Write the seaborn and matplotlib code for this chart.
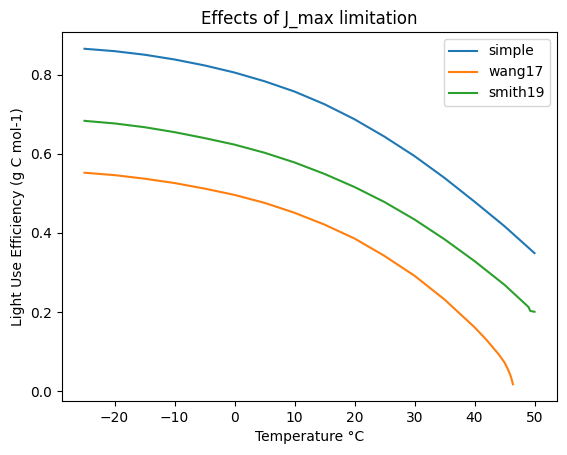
import pandas as pd
import numpy as np
import matplotlib
matplotlib.use('Agg')
import matplotlib.pyplot as plt
import seaborn as sns

# values
temp_simple = [-25, -20, -15, -10, -5, 0, 5, 10, 15, 20, 25, 30, 35, 40, 45, 50]
lue_simple = [0.865, 0.859, 0.850, 0.838, 0.823, 0.805, 0.783, 0.757, 0.725,
              0.687, 0.643, 0.594, 0.539, 0.479, 0.417, 0.349]

temp_wang = [-25, -20, -15, -10, -5, 0, 5, 10, 15, 20, 25, 30, 35, 40, 42, 44,
             45, 45.5, 46, 46.2, 46.4]
lue_wang = [0.552, 0.546, 0.537, 0.526, 0.512, 0.496, 0.476, 0.451, 0.421,
            0.386, 0.342, 0.292, 0.232, 0.162, 0.130, 0.094, 0.073, 0.058,
            0.040, 0.030, 0.018]

temp_smith = [-25, -20, -15, -10, -5, 0, 5, 10, 15, 20, 25, 30, 35, 40, 45,
              49, 49.3, 50]
lue_smith = [0.683, 0.6765, 0.667, 0.6545, 0.6395, 0.623, 0.6025, 0.578, 0.549,
             0.516, 0.478, 0.434, 0.384, 0.329, 0.269, 0.213, 0.203, 0.201]

fig, ax = plt.subplots(figsize=(5.67, 4.55), dpi=100)
fig.subplots_adjust(left=62/567, right=557/567, top=1-32/455, bottom=1-401/455)

sns.lineplot(x=temp_simple, y=lue_simple, ax=ax, color='C0', label='simple')
sns.lineplot(x=temp_wang, y=lue_wang, ax=ax, color='C1', label='wang17')
sns.lineplot(x=temp_smith, y=lue_smith, ax=ax, color='C2', label='smith19')

ax.set_title('Effects of J_max limitation')
ax.set_xlabel('Temperature °C')
ax.set_ylabel('Light Use Efficiency (g C mol-1)')
ax.legend(loc='upper right')

plt.savefig('out.png', dpi=100)
